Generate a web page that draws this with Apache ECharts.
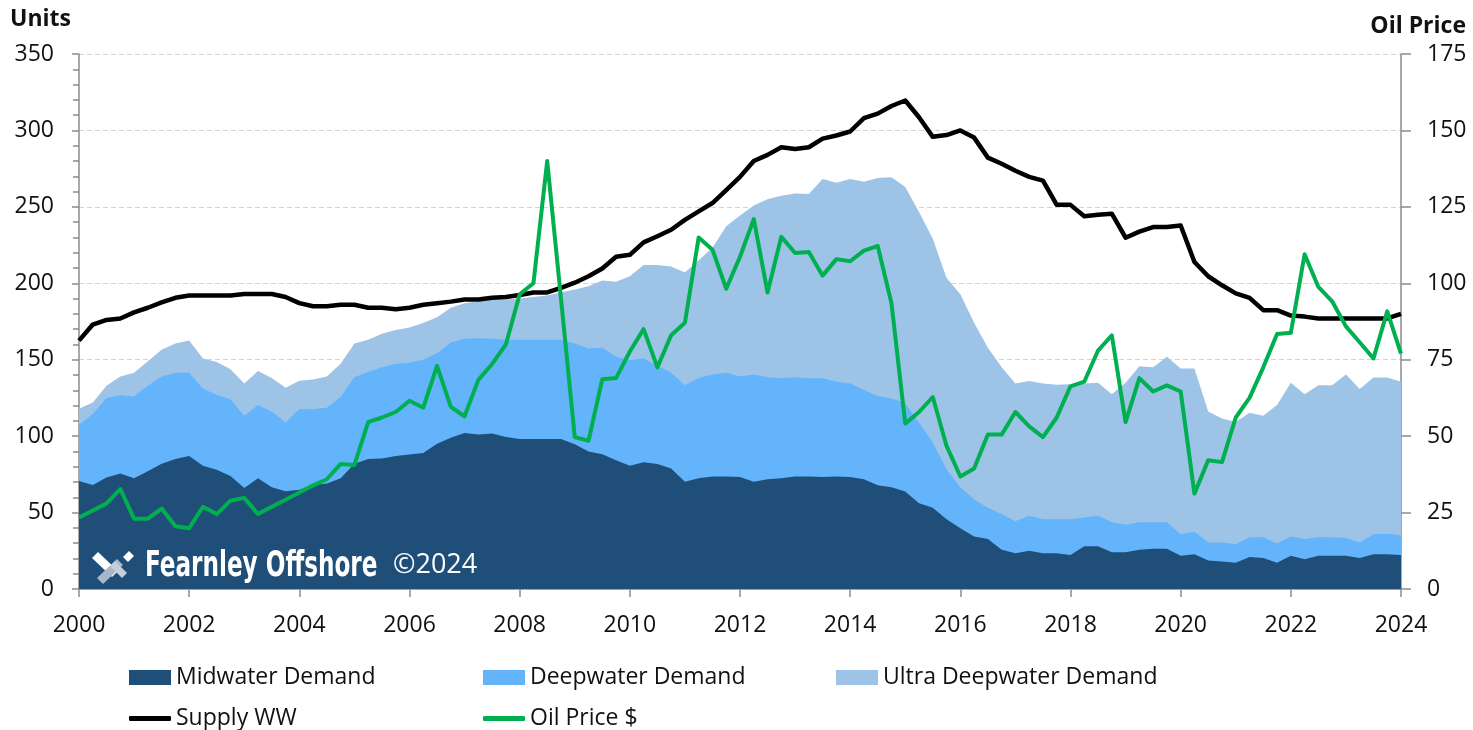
<!DOCTYPE html>
<html>
<head>
<meta charset="utf-8">
<script src="https://cdn.jsdelivr.net/npm/echarts@6/dist/echarts.min.js"></script>
<style>
html,body{margin:0;padding:0;background:#fff;}
#chart{width:1473px;height:730px;}
</style>
</head>
<body>
<div id="chart"></div>
<script>
// Quarterly categories 2000Q1 .. 2024Q1
const startYear = 2000, endYear = 2024;
const quarters = [];
for (let y = startYear; y <= endYear; y++) {
  for (let q = 1; q <= 4; q++) {
    if (y === endYear && q > 1) break;
    quarters.push(y + 'Q' + q);
  }
}

// Stacked tops (units)
const midwaterDemand = [70.6, 68, 73, 75.5, 72.5, 77, 82, 85, 87, 80.7,
  78, 74, 66, 72.5, 66.6, 64, 65, 68, 69, 72.5,
  82, 85, 85.3, 87, 88, 89, 95, 99, 102, 101,
  101.7, 99.4, 98.2, 98.2, 98.2, 98.2, 94.7, 90, 88.1, 84.2,
  80.7, 83, 81.8, 78.8, 70.1, 72.5, 73.6, 73.6, 73.2, 70.1,
  71.8, 72.5, 73.6, 73.6, 73.2, 73.6, 73.2, 71.8, 67.8, 66.6,
  63.8, 56.1, 53.1, 45.6, 39.7, 34.4, 32.7, 25.7, 23.4, 25,
  23.4, 23.4, 22.2, 28, 28, 24.1, 24.1, 25.7, 26.4, 26.4,
  21.7, 22.7, 18.7, 18, 17.1, 21, 20.3, 17.1, 21.7, 19.4,
  21.7, 21.7, 21.7, 20.3, 22.7, 22.7, 22.2];

// Midwater + Deepwater (top of the deepwater band)
const deepwaterTop = [107.5, 114.5, 125, 126.7, 126, 133, 139, 141.5, 141.5, 131,
  127, 124, 113.4, 120.4, 116, 109, 117.6, 117.6, 118.5, 125.6,
  138.6, 142, 145, 147.3, 148, 150, 154.3, 161.3, 163.7, 164,
  163.7, 163, 163, 163, 163, 163, 160.6, 157.4, 157.8, 152,
  149.6, 150.8, 146, 141.5, 133.3, 138, 140.3, 141.5, 139.1, 140.3,
  138.6, 137.9, 138.6, 137.9, 137.9, 135.6, 134.4, 130.2, 126.3, 124.6,
  121.6, 108.7, 95.9, 78.3, 66.6, 58.5, 53.1, 49.1, 44.4, 47.9,
  45.6, 45.6, 45.6, 46.8, 47.9, 43.7, 42.1, 43.7, 43.7, 43.7,
  35.8, 37.4, 30.4, 30.4, 29.2, 33.9, 33.9, 29.7, 34.4, 32.7,
  33.9, 33.9, 33.4, 30.4, 35.8, 36.2, 35.1];

// Total demand (top of the ultra deepwater band)
const ultraDeepwaterTop = [118, 122, 133, 139, 141.5, 149, 156.6, 160.6, 162.5, 150.8,
  148.5, 143.8, 134.4, 142.6, 138, 131.6, 136.3, 137, 139, 147.3,
  160.6, 163, 167, 169.5, 171, 174, 177.7, 184, 187, 188.2,
  189.4, 189.4, 190, 191, 192, 194, 196, 198, 201.8, 201,
  204.6, 212, 212, 211, 207, 215, 223.3, 237.3, 244.3, 250.9,
  254.9, 257.2, 258.8, 258.4, 268.2, 265.8, 268.2, 266.5, 268.9, 269.4,
  263, 246.7, 229.1, 203.4, 192.9, 174.2, 157.8, 145, 134.4, 136.1,
  134.4, 133.7, 134, 134.4, 134.9, 127.4, 134.9, 145.7, 145, 152,
  144.3, 144.3, 116.2, 111.5, 109.2, 115.3, 113.4, 120.4, 134.9, 127.4,
  133.3, 133.3, 140.3, 130.9, 138.4, 138.4, 135.6];

const supplyWW = [162.5, 173, 176, 177, 181, 184, 187.5, 190.5, 192, 192,
  192, 192, 193, 193, 193, 191, 187, 185, 185, 186,
  186, 184, 184, 183, 184, 186, 187, 188, 189.4, 189.4,
  190.5, 191, 192.4, 194, 194, 197, 200.4, 204.6, 209.7, 217.4,
  218.6, 226.8, 230.8, 235, 241.5, 247, 252.5, 261, 269.6, 280,
  284, 289, 287.8, 289, 294.6, 296.7, 299.3, 308, 311, 316,
  319.6, 308.6, 295.8, 297, 300, 295.3, 282.2, 278.2, 273.6, 269.6,
  267.2, 251.3, 251.3, 243.9, 244.8, 245.5, 229.8, 233.8, 236.8, 236.8,
  237.8, 213.9, 204.6, 198.7, 193.4, 190.5, 182.4, 182.4, 178.9, 178.2,
  177, 177, 177, 177, 177, 177, 180];

const oilPrice = [23.4, 25.7, 28, 32.7, 23, 23, 26.3, 20.5, 19.9, 26.9,
  24.5, 28.9, 29.8, 24.5, 26.9, 29.2, 31.6, 33.9, 35.9, 40.9,
  40.6, 54.6, 56.1, 57.9, 61.6, 59.3, 73, 59.6, 56.5, 68.4,
  73.6, 80, 96.4, 100, 140, 95, 49.7, 48.5, 68.6, 69,
  77.7, 85, 72.5, 83, 87.1, 115, 111, 98.2, 108.7, 121,
  97, 115.2, 109.9, 110.2, 102.5, 107.9, 107.2, 110.7, 112.2, 93.5,
  54.1, 57.9, 62.8, 46.8, 36.8, 39.4, 50.5, 50.5, 57.9, 53.2,
  49.7, 56.1, 66.3, 67.8, 78, 83, 54.6, 69, 64.6, 66.6,
  64.6, 31.2, 42.1, 41.5, 56.1, 62.5, 72.5, 83.4, 83.8, 109.5,
  98.8, 94.1, 85.9, 80.7, 75.4, 90.8, 77];

const seriesNames = ['Midwater Demand', 'Deepwater Demand', 'Ultra Deepwater Demand', 'Supply WW', 'Oil Price $'];
const colors = { mid: '#1F4E79', deep: '#63B4FB', ultra: '#9DC3E6', supply: '#000000', oil: '#00B050' };

const FONT = '"Open Sans", "Noto Sans", sans-serif';
const FS = 23;
const chart = echarts.init(document.getElementById('chart'), null, { renderer: 'canvas' });

function areaSeries(name, data, color, z) {
  return {
    name: name, type: 'line', data: data, yAxisIndex: 0,
    symbol: 'none', showSymbol: false, z: z,
    lineStyle: { width: 0, color: color },
    itemStyle: { color: color },
    areaStyle: { color: color, opacity: 1 },
    emphasis: { disabled: true }, silent: true
  };
}

function legendAt(name, left, top, isLine) {
  return {
    data: [{ name: name, icon: isLine ? 'roundRect' : 'rect' }],
    left: left, top: top, padding: 0,
    itemWidth: 42, itemHeight: isLine ? 5 : 15,
    itemGap: 0,
    selectedMode: false,
    textStyle: { fontSize: FS, color: '#111', fontFamily: FONT }
  };
}

const option = {
  animation: false,
  backgroundColor: '#ffffff',
  grid: { left: 79, right: 72, top: 54, bottom: 141, containLabel: false },
  legend: [
    legendAt(seriesNames[0], 129, 666, false),
    legendAt(seriesNames[1], 483, 666, false),
    legendAt(seriesNames[2], 836, 666, false),
    legendAt(seriesNames[3], 129, 707, true),
    legendAt(seriesNames[4], 483, 707, true)
  ],
  xAxis: {
    type: 'category', data: quarters, boundaryGap: false,
    axisLine: { show: true, lineStyle: { color: '#8c8c8c', width: 1.5 } },
    axisTick: { show: true, interval: 7, length: 8, lineStyle: { color: '#8c8c8c', width: 1.5 } },
    axisLabel: { interval: 7, formatter: v => v.slice(0, 4), fontSize: FS, color: '#111', fontFamily: FONT, margin: 25 },
    splitLine: { show: false }
  },
  yAxis: [
    {
      type: 'value', min: 0, max: 350, interval: 50, position: 'left',
      axisLine: { show: true, lineStyle: { color: '#8c8c8c', width: 1.5 } },
      axisTick: { show: true, length: 7, lineStyle: { color: '#8c8c8c', width: 1.5 } },
      minorTick: { show: true, splitNumber: 5, length: 6, lineStyle: { color: '#8c8c8c', width: 1.5 } },
      axisLabel: { fontSize: FS, color: '#111', fontFamily: FONT, margin: 25 },
      splitLine: { show: true, lineStyle: { color: '#d4d4d4', type: [5, 3], width: 1.2 } }
    },
    {
      type: 'value', min: 0, max: 175, interval: 25, position: 'right',
      axisLine: { show: true, lineStyle: { color: '#8c8c8c', width: 1.5 } },
      axisTick: { show: true, length: 10, lineStyle: { color: '#8c8c8c', width: 1.5 } },
      axisLabel: { fontSize: FS, color: '#111', fontFamily: FONT, margin: 26 },
      splitLine: { show: false }
    }
  ],
  series: [
    areaSeries(seriesNames[2], ultraDeepwaterTop, colors.ultra, 1),
    areaSeries(seriesNames[1], deepwaterTop, colors.deep, 2),
    areaSeries(seriesNames[0], midwaterDemand, colors.mid, 3),
    {
      name: seriesNames[3], type: 'line', data: supplyWW, yAxisIndex: 0,
      symbol: 'none', z: 5, itemStyle: { color: colors.supply },
      lineStyle: { color: colors.supply, width: 4.5, join: 'round' }
    },
    {
      name: seriesNames[4], type: 'line', data: oilPrice, yAxisIndex: 1,
      symbol: 'none', z: 6, itemStyle: { color: colors.oil },
      lineStyle: { color: colors.oil, width: 4, join: 'round' }
    }
  ],
  graphic: [
    { type: 'text', left: 10, top: 8, style: { text: 'Units', font: 'bold 23px ' + FONT, fill: '#111' } },
    { type: 'text', right: 7, top: 15, style: { text: 'Oil Price', font: 'bold 23px ' + FONT, fill: '#111' } },
    // watermark logo
    { type: 'polygon', z: 50, shape: { points: [[92, 558], [98, 552], [118, 571], [112, 577]] }, style: { fill: '#ffffff' } },
    { type: 'polygon', z: 50, shape: { points: [[97, 578], [117, 559], [123, 565], [103, 584]] }, style: { fill: '#a9b8c9' } },
    { type: 'polygon', z: 51, shape: { points: [[110, 566], [115, 561], [127, 573], [122, 578]] }, style: { fill: '#c3cfdc' } },
    { type: 'polygon', z: 50, shape: { points: [[123, 557], [129, 551], [134, 556], [128, 562]] }, style: { fill: '#ffffff' } },
    { type: 'text', z: 50, x: 145, y: 549, scaleX: 0.735, style: { text: 'Fearnley Offshore', font: 'bold 35px "DejaVu Sans Condensed", "DejaVu Sans", sans-serif', fill: '#ffffff' } },
    { type: 'text', z: 50, x: 393, y: 552, style: { text: '©2024', font: '27px ' + FONT, fill: '#ffffff' } }
  ]
};
chart.setOption(option);
</script>
</body>
</html>
